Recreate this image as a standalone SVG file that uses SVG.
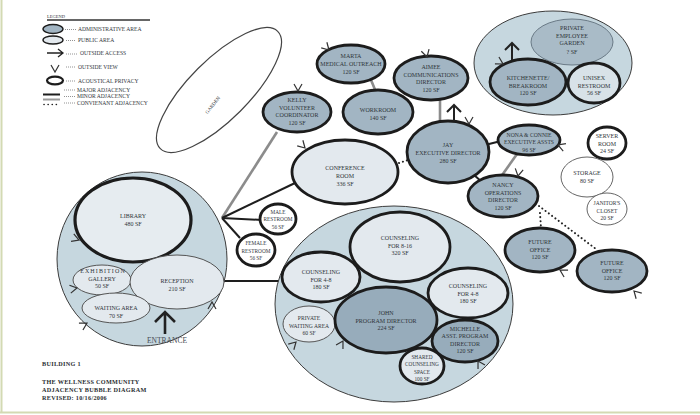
<svg xmlns="http://www.w3.org/2000/svg" width="700" height="415" viewBox="0 0 700 415">
<defs>
<style>
.t{font-family:"Liberation Serif",serif;font-size:6px;fill:#30353a;text-anchor:middle}
.lg{font-family:"Liberation Serif",serif;font-size:5.6px;fill:#30353a}
.ttl{font-family:"Liberation Serif",serif;font-size:6.2px;font-weight:bold;fill:#2a2e32;letter-spacing:0.3px}
.adm{fill:#a2b5c3;stroke:#1c1c1c;stroke-width:2.8}
.admd{fill:#97acbb;stroke:#1c1c1c;stroke-width:2.8}
.pub{fill:#e3e9ee;stroke:#1c1c1c;stroke-width:2.8}
.pubt{fill:#e3e9ee;stroke:#555;stroke-width:1}
.wht{fill:#fff;stroke:#1c1c1c;stroke-width:2.8}
.whtt{fill:#fff;stroke:#666;stroke-width:1}
.grp{fill:#c6d7df;stroke:#3c3c3c;stroke-width:1}
.maj{stroke:#1e1e1e;stroke-width:2;fill:none}
.min{stroke:#8c8c8c;stroke-width:2.6;fill:none}
.dot{stroke:#222;stroke-width:2;stroke-dasharray:0.1 4;stroke-linecap:round;fill:none}
.arr{stroke:#222;stroke-width:2;fill:none}
.lead{stroke:#777;stroke-width:0.8;stroke-dasharray:1 1;fill:none}
</style>
<path id="vv" d="M-4,-7 L0,0 L4,-7" fill="none" stroke="#333" stroke-width="1.2"/>
</defs>
<rect width="700" height="415" fill="#ffffff"/>
<line x1="1.5" y1="0" x2="1.5" y2="413" stroke="#d3dab3" stroke-width="2"/>
<line x1="0" y1="412.5" x2="700" y2="412.5" stroke="#d3dab3" stroke-width="2"/>

<g id="legend">
<text class="lg" x="47" y="18" style="font-size:4.5px">LEGEND</text>
<line x1="47" y1="20" x2="150" y2="20" stroke="#333" stroke-width="1.6"/>
<ellipse cx="53" cy="29" rx="10" ry="4.5" class="adm" style="stroke-width:1.4"/>
<line class="lead" x1="65" y1="29.5" x2="76" y2="29.5"/>
<text class="lg" x="78" y="31">ADMINISTRATIVE AREA</text>
<ellipse cx="53" cy="40" rx="10" ry="4" class="pub" style="stroke-width:1.4"/>
<line class="lead" x1="66" y1="40.5" x2="76" y2="40.5"/>
<text class="lg" x="78" y="42">PUBLIC AREA</text>
<path class="arr" d="M47,53 H63 M58,49 L63,53 L58,57" style="stroke-width:1.3"/>
<line class="lead" x1="66" y1="54" x2="78" y2="54"/>
<text class="lg" x="80" y="55">OUTSIDE ACCESS</text>
<use href="#vv" transform="translate(55,72)"/>
<line class="lead" x1="66" y1="67" x2="76" y2="67"/>
<text class="lg" x="78" y="68.5">OUTSIDE VIEW</text>
<ellipse cx="55" cy="80.5" rx="8" ry="3.8" fill="#fff" stroke="#1c1c1c" stroke-width="2.2"/>
<line class="lead" x1="66" y1="81" x2="76" y2="81"/>
<text class="lg" x="78" y="82.5">ACOUSTICAL PRIVACY</text>
<line x1="43" y1="94.5" x2="60" y2="94.5" stroke="#1e1e1e" stroke-width="2"/>
<line class="lead" x1="64" y1="90" x2="75" y2="90"/>
<text class="lg" x="77" y="91.5">MAJOR ADJACENCY</text>
<line x1="43" y1="99.5" x2="60" y2="99.5" stroke="#9a9a9a" stroke-width="2"/>
<line class="lead" x1="64" y1="96.5" x2="75" y2="96.5"/>
<text class="lg" x="77" y="98">MINOR ADJACENCY</text>
<line x1="44" y1="104.5" x2="60" y2="104.5" class="dot" style="stroke-width:1.6"/>
<line class="lead" x1="64" y1="103" x2="75" y2="103"/>
<text class="lg" x="77" y="104.5">CONVIENANT ADJACENCY</text>
</g>

<g id="connectors">
<line class="min" x1="277" y1="132" x2="222" y2="218"/>
<line class="maj" x1="222" y1="218" x2="295" y2="183"/>
<line class="maj" x1="222" y1="218" x2="262" y2="220"/>
<line class="maj" x1="222" y1="218" x2="240" y2="238"/>
<line class="maj" x1="222" y1="281" x2="279" y2="281"/>
<line class="min" x1="371" y1="80" x2="376" y2="92"/>
<line class="min" x1="404" y1="98" x2="398" y2="94"/>
<line class="min" x1="440" y1="98" x2="440" y2="124"/>
<line class="maj" x1="485" y1="145" x2="501" y2="141"/>
<line class="maj" x1="474" y1="175" x2="482" y2="182"/>
<line class="min" x1="517" y1="154" x2="500" y2="178"/>
<line class="dot" x1="399" y1="163" x2="408" y2="160"/>
<line class="dot" x1="539" y1="206" x2="596" y2="249"/>
<line class="dot" x1="540" y1="213" x2="541" y2="228"/>
</g>

<g id="garden">
<ellipse cx="219" cy="90" rx="83" ry="30" transform="rotate(-45 219 90)" fill="#fff" stroke="#444" stroke-width="1.2"/>
<text class="t" x="214" y="106" transform="rotate(-52 214 106)" style="font-size:5px">GARDEN</text>
</g>

<g id="marta">
<ellipse cx="351" cy="64" rx="34" ry="19" class="adm"/>
<text class="t" x="351" y="57.5">MARTA</text>
<text class="t" x="351" y="65.5">MEDICAL OUTREACH</text>
<text class="t" x="351" y="73.5">120 SF</text>
<use href="#vv" transform="translate(329,50) rotate(-45)"/>
</g>

<g id="kelly">
<ellipse cx="297" cy="112" rx="34" ry="20" class="adm"/>
<text class="t" x="297" y="102">KELLY</text>
<text class="t" x="297" y="109.5">VOLUNTEER</text>
<text class="t" x="297" y="117">COORDINATOR</text>
<text class="t" x="297" y="124.5">120 SF</text>
<use href="#vv" transform="translate(298,91)"/>
</g>

<g id="workroom">
<ellipse cx="378" cy="112" rx="35" ry="22" class="adm"/>
<text class="t" x="378" y="112">WORKROOM</text>
<text class="t" x="378" y="119.5">140 SF</text>
</g>

<g id="aimee">
<ellipse cx="431" cy="78" rx="37" ry="22" class="adm"/>
<text class="t" x="431" y="69">AIMEE</text>
<text class="t" x="431" y="76.5">COMMUNICATIONS</text>
<text class="t" x="431" y="84">DIRECTOR</text>
<text class="t" x="431" y="91.5">120 SF</text>
<use href="#vv" transform="translate(427,57) rotate(-15)"/>
</g>

<g id="jay">
<ellipse cx="448" cy="152" rx="41" ry="31" class="adm"/>
<text class="t" x="448" y="147">JAY</text>
<text class="t" x="448" y="155">EXECUTIVE DIRECTOR</text>
<text class="t" x="448" y="163">280 SF</text>
<path class="arr" d="M454,121 V105 M447,112 L454,105 L461,112"/>
<use href="#vv" transform="translate(469,124)"/>
</g>

<g id="conference">
<ellipse cx="345" cy="172" rx="53" ry="32" class="pub"/>
<text class="t" x="345" y="170">CONFERENCE</text>
<text class="t" x="345" y="178">ROOM</text>
<text class="t" x="345" y="185.5">336 SF</text>
<use href="#vv" transform="translate(305,148) rotate(-45)"/>
</g>

<g id="nona">
<ellipse cx="529" cy="140" rx="31" ry="15" class="adm"/>
<text class="t" x="529" y="136.5" style="font-size:5.7px">NONA &amp; CONNIE</text>
<text class="t" x="529" y="144" style="font-size:5.7px">EXECUTIVE ASSTS</text>
<text class="t" x="529" y="151.5" style="font-size:5.7px">96 SF</text>
<use href="#vv" transform="translate(558,145) rotate(110)"/>
</g>

<g id="nancy">
<ellipse cx="503" cy="196" rx="35" ry="21" class="adm"/>
<text class="t" x="503" y="187">NANCY</text>
<text class="t" x="503" y="194.5">OPERATIONS</text>
<text class="t" x="503" y="202">DIRECTOR</text>
<text class="t" x="503" y="209.5">120 SF</text>
<use href="#vv" transform="translate(518,176) rotate(10)"/>
</g>

<g id="future1">
<ellipse cx="540" cy="250" rx="35" ry="22" class="adm"/>
<text class="t" x="540" y="244">FUTURE</text>
<text class="t" x="540" y="251.5">OFFICE</text>
<text class="t" x="540" y="259">120 SF</text>
<use href="#vv" transform="translate(560,270) rotate(120)"/>
</g>

<g id="future2">
<ellipse cx="612" cy="271" rx="35" ry="21" class="adm"/>
<text class="t" x="612" y="265">FUTURE</text>
<text class="t" x="612" y="272.5">OFFICE</text>
<text class="t" x="612" y="280">120 SF</text>
<use href="#vv" transform="translate(634,291) rotate(135)"/>
</g>

<g id="server">
<ellipse cx="607" cy="143" rx="19" ry="16" class="wht"/>
<text class="t" x="607" y="138">SERVER</text>
<text class="t" x="607" y="145.5">ROOM</text>
<text class="t" x="607" y="153">24 SF</text>
</g>

<g id="storage">
<ellipse cx="587" cy="177" rx="26" ry="20" class="whtt"/>
<text class="t" x="587" y="175">STORAGE</text>
<text class="t" x="587" y="183">80 SF</text>
</g>

<g id="janitor">
<ellipse cx="607" cy="209" rx="20" ry="16" class="whtt"/>
<text class="t" x="607" y="205" style="font-size:5.5px">JANITOR'S</text>
<text class="t" x="607" y="212.5" style="font-size:5.5px">CLOSET</text>
<text class="t" x="607" y="220" style="font-size:5.5px">20 SF</text>
</g>

<g id="staff-area">
<ellipse cx="553" cy="63" rx="79" ry="52" class="grp"/>
<ellipse cx="572" cy="42" rx="41" ry="23" fill="#a9bbc7" stroke="#6a7a86" stroke-width="1"/>
<text class="t" x="572" y="30">PRIVATE</text>
<text class="t" x="572" y="37.5">EMPLOYEE</text>
<text class="t" x="572" y="45">GARDEN</text>
<text class="t" x="572" y="53.5">? SF</text>
<ellipse cx="528" cy="82" rx="38" ry="23" class="adm"/>
<text class="t" x="528" y="80">KITCHENETTE/</text>
<text class="t" x="528" y="87.5">BREAKROOM</text>
<text class="t" x="528" y="95">120 SF</text>
<ellipse cx="594" cy="83" rx="26" ry="20" class="pub" style="fill:#d8e2e8"/>
<text class="t" x="594" y="80">UNISEX</text>
<text class="t" x="594" y="87.5">RESTROOM</text>
<text class="t" x="594" y="95">56 SF</text>
<path class="arr" d="M512,60 V43 M505,50 L512,43 L519,50"/>
<use href="#vv" transform="translate(503,64) rotate(-60)"/>
</g>

<g id="building-left">
<ellipse cx="142" cy="259" rx="85" ry="87" class="grp"/>
<ellipse cx="133" cy="220" rx="58" ry="42" class="pub" style="stroke-width:3.2;fill:#e6ecf0"/>
<text class="t" x="133" y="218">LIBRARY</text>
<text class="t" x="133" y="225.5">480 SF</text>
<ellipse cx="102" cy="280" rx="29" ry="15" class="pubt"/>
<text class="t" x="103" y="273" style="letter-spacing:1.1px">EXHIBITION</text>
<text class="t" x="102" y="280.5">GALLERY</text>
<text class="t" x="102" y="288">50 SF</text>
<ellipse cx="177" cy="282" rx="47" ry="27" class="pubt"/>
<text class="t" x="177" y="283">RECEPTION</text>
<text class="t" x="177" y="290.5">210 SF</text>
<ellipse cx="116" cy="308" rx="34" ry="15" class="pubt"/>
<text class="t" x="116" y="310">WAITING AREA</text>
<text class="t" x="116" y="317.5">70 SF</text>
<use href="#vv" transform="translate(79,240) rotate(-70)"/>
<use href="#vv" transform="translate(77,288) rotate(-100)"/>
<use href="#vv" transform="translate(87,323) rotate(-120)"/>
<use href="#vv" transform="translate(212,302) rotate(180)"/>
<path class="arr" d="M165,334 V312 M155,322 L165,312 L175,322" style="stroke-width:2.6"/>
<text class="t" x="167" y="343" style="font-size:7.5px;fill:#474c52">ENTRANCE</text>
</g>

<g id="male-restroom">
<ellipse cx="278" cy="219" rx="18" ry="15" class="wht"/>
<text class="t" x="278" y="213.5" style="font-size:5.3px">MALE</text>
<text class="t" x="278" y="221" style="font-size:5.3px">RESTROOM</text>
<text class="t" x="278" y="228.5" style="font-size:5.3px">56 SF</text>
</g>

<g id="female-restroom">
<ellipse cx="256" cy="250" rx="19" ry="16" class="wht"/>
<text class="t" x="256" y="245" style="font-size:5.3px">FEMALE</text>
<text class="t" x="256" y="252.5" style="font-size:5.3px">RESTROOM</text>
<text class="t" x="256" y="260" style="font-size:5.3px">56 SF</text>
</g>

<g id="building-middle">
<ellipse cx="394" cy="304" rx="119" ry="98" class="grp"/>
<ellipse cx="400" cy="247" rx="50" ry="35" class="pub"/>
<text class="t" x="400" y="240">COUNSELING</text>
<text class="t" x="400" y="247.5">FOR 8-16</text>
<text class="t" x="400" y="255">320 SF</text>
<ellipse cx="321" cy="277" rx="39" ry="25" class="pub"/>
<text class="t" x="321" y="274">COUNSELING</text>
<text class="t" x="321" y="281.5">FOR 4-8</text>
<text class="t" x="321" y="289">180 SF</text>
<ellipse cx="468" cy="293" rx="40" ry="25" class="pub"/>
<text class="t" x="468" y="288">COUNSELING</text>
<text class="t" x="468" y="295.5">FOR 4-8</text>
<text class="t" x="468" y="303">180 SF</text>
<ellipse cx="309" cy="324" rx="26" ry="18" class="pubt"/>
<text class="t" x="309" y="320" style="font-size:5.6px">PRIVATE</text>
<text class="t" x="309" y="327.5" style="font-size:5.6px">WAITING AREA</text>
<text class="t" x="309" y="335" style="font-size:5.6px">60 SF</text>
<ellipse cx="386" cy="320" rx="51" ry="33" class="admd"/>
<text class="t" x="386" y="315">JOHN</text>
<text class="t" x="386" y="322.5">PROGRAM DIRECTOR</text>
<text class="t" x="386" y="330">224 SF</text>
<ellipse cx="465" cy="341" rx="33" ry="21" class="admd"/>
<text class="t" x="465" y="330.5">MICHELLE</text>
<text class="t" x="465" y="338">ASST. PROGRAM</text>
<text class="t" x="465" y="345.5">DIRECTOR</text>
<text class="t" x="465" y="353">120 SF</text>
<ellipse cx="422" cy="366" rx="22" ry="18" class="pub"/>
<text class="t" x="422" y="359" style="font-size:5.3px">SHARED</text>
<text class="t" x="422" y="366" style="font-size:5.3px">COUNSELING</text>
<text class="t" x="422" y="373.5" style="font-size:5.3px">SPACE</text>
<text class="t" x="422" y="380.5" style="font-size:5.3px">100 SF</text>
<use href="#vv" transform="translate(296,342) rotate(-135)"/>
<use href="#vv" transform="translate(343,341) rotate(-150)"/>
<use href="#vv" transform="translate(478,361) rotate(150)"/>
</g>

<g id="title">
<text class="ttl" x="42" y="365.5">BUILDING 1</text>
<text class="ttl" x="42" y="384">THE WELLNESS COMMUNITY</text>
<text class="ttl" x="42" y="391.5">ADJACENCY BUBBLE DIAGRAM</text>
<text class="ttl" x="42" y="399.5">REVISED: 10/16/2006</text>
</g>
</svg>
